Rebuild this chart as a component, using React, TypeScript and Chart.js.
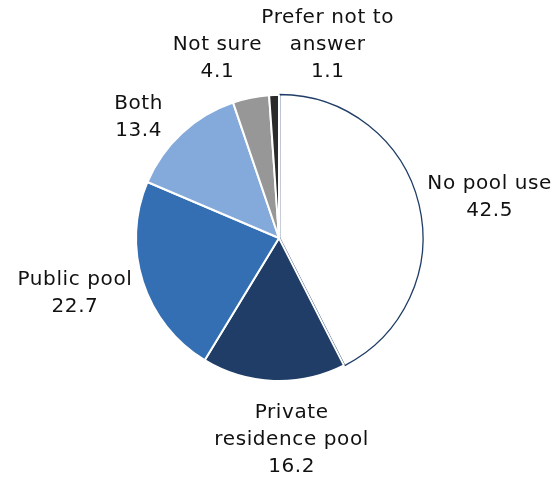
import React, { useEffect, useRef } from "react";
import { Chart, registerables } from "chart.js";

Chart.register(...registerables);

const categories: string[][] = [
  ["No pool use"],
  ["Private", "residence pool"],
  ["Public pool"],
  ["Both"],
  ["Not sure"],
  ["Prefer not to", "answer"],
];
const values: number[] = [42.5, 16.2, 22.7, 13.4, 4.1, 1.1];
const fills: string[] = ["#ffffff", "#1f3d66", "#346fb3", "#84aadc", "#979797", "#2b2b2b"];
const borders: string[] = ["#1f3d66", "#ffffff", "#ffffff", "#ffffff", "#ffffff", "#ffffff"];

// label layout tweaks (px), separate from data
const labelNudge: [number, number][] = [
  [1, 1],
  [21, 8],
  [-4, 0],
  [-20, 11],
  [-23, -3],
  [56, 0],
];

const FONT = '20px "DejaVu Sans"';
const LINE_H = 27;
const GAP = 10;

const labelPlugin = {
  id: "outerLabels",
  afterDatasetsDraw(chart: any) {
    const ctx = chart.ctx as CanvasRenderingContext2D;
    const meta = chart.getDatasetMeta(0);
    ctx.save();
    ctx.font = FONT;
    (ctx as any).letterSpacing = "0.6px";
    ctx.fillStyle = "#111111";
    ctx.textAlign = "center";
    ctx.textBaseline = "middle";
    meta.data.forEach((arc: any, i: number) => {
      const p = arc.getProps(["x", "y", "startAngle", "endAngle", "outerRadius"], true);
      const mid = (p.startAngle + p.endAngle) / 2;
      const dx = Math.cos(mid);
      const dy = Math.sin(mid);
      const lines = [...categories[i], values[i].toFixed(1)];
      const w = Math.max(...lines.map((l) => ctx.measureText(l).width));
      const h = lines.length * LINE_H;
      const cx = p.x + dx * (p.outerRadius + GAP) + (dx * w) / 2 + labelNudge[i][0];
      const cy = p.y + dy * (p.outerRadius + GAP) + (dy * h) / 2 + labelNudge[i][1];
      lines.forEach((l, k) => {
        const ly = cy - h / 2 + LINE_H / 2 + k * LINE_H;
        ctx.fillText(l, cx + 0.3, ly);
      });
    });
    ctx.restore();
  },
};

export default function App() {
  const ref = useRef<HTMLCanvasElement | null>(null);
  useEffect(() => {
    document.body.style.margin = "0";
    const canvas = ref.current;
    if (!canvas) return;
    const chart = new Chart(canvas, {
      type: "pie",
      data: {
        labels: categories.map((c) => c.join(" ")),
        datasets: [
          {
            data: values,
            backgroundColor: fills,
            borderColor: borders,
            borderWidth: [1.3, 2, 2, 2, 2, 2],
            offset: [2.5, 0, 0, 0, 0, 0],
            hoverOffset: 0,
            radius: 143,
          } as any,
        ],
      },
      options: {
        responsive: false,
        animation: false,
        layout: { padding: { left: 136, right: 136, top: 95, bottom: 99 } },
        plugins: {
          legend: { display: false },
          tooltip: { enabled: false },
        },
        events: [],
      },
      plugins: [labelPlugin],
    });
    return () => chart.destroy();
  }, []);
  return (
    <div style={{ width: 558, height: 480, background: "#ffffff" }}>
      <canvas ref={ref} width={558} height={480} style={{ display: "block" }} />
    </div>
  );
}
